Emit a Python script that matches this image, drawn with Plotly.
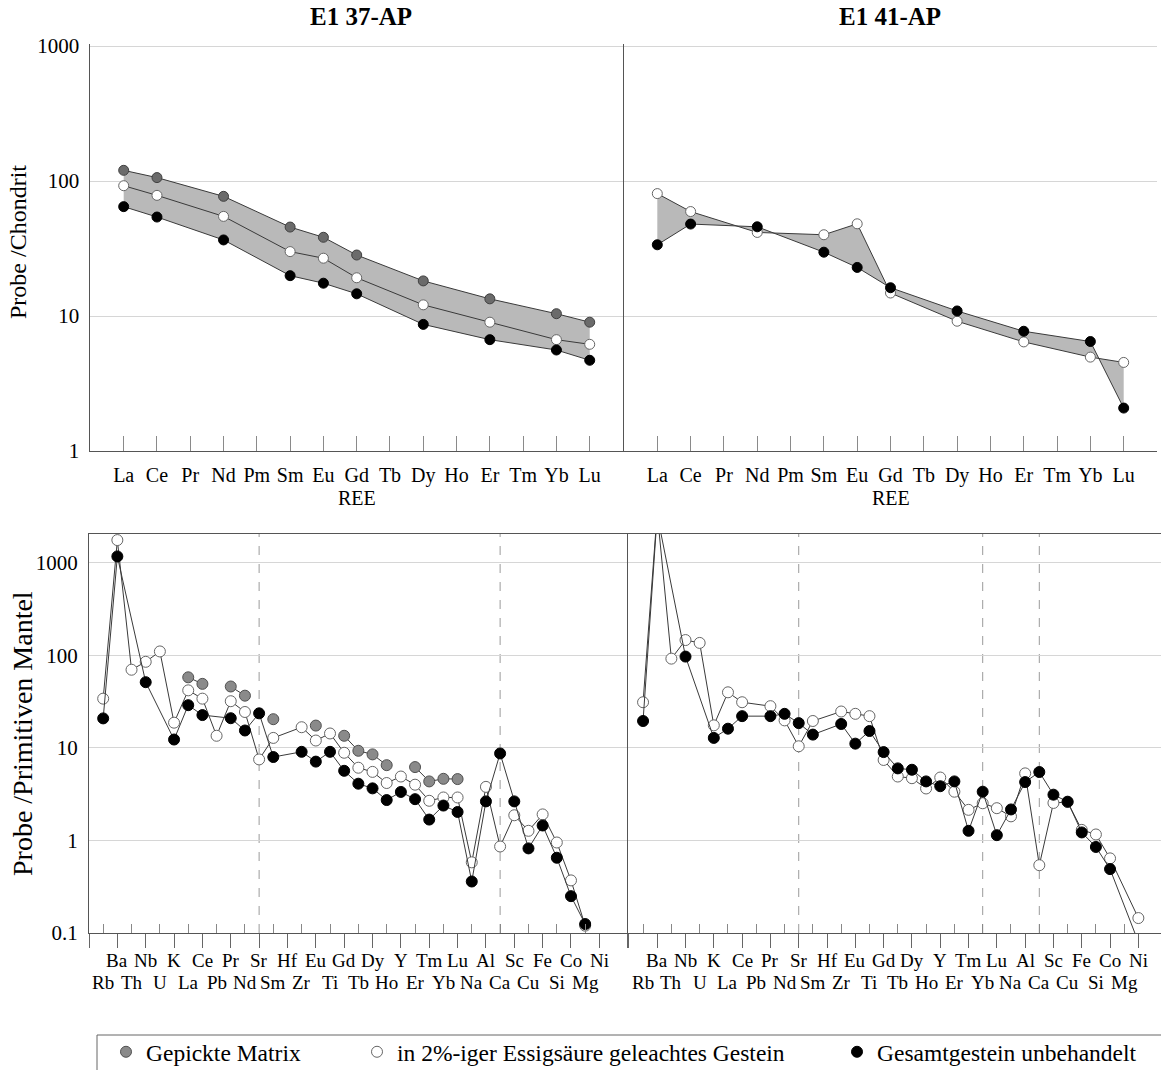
import plotly.graph_objects as go

W, H = 1161, 1070
SERIF = "Liberation Serif"

# ---------------- data ----------------
REE = ["La", "Ce", "Pr", "Nd", "Pm", "Sm", "Eu", "Gd", "Tb", "Dy", "Ho", "Er", "Tm", "Yb", "Lu"]

# E1 37-AP, chondrite normalised
ree37_matrix = [120, 106, None, 77, None, 45.6, 38.3, 28.3, None, 18.2, None, 13.4, None, 10.4, 9.0]
ree37_leached = [92.3, 78.3, None, 54.7, None, 30.0, 26.8, 19.2, None, 12.1, None, 9.0, None, 6.68, 6.17]
ree37_whole = [64.6, 54.1, None, 36.6, None, 19.9, 17.5, 14.6, None, 8.67, None, 6.68, None, 5.60, 4.70]

# E1 41-AP, chondrite normalised
ree41_leached = [80.7, 59.4, None, 41.6, None, 40.0, 48.2, 14.8, None, 9.15, None, 6.43, None, 4.96, 4.53]
ree41_whole = [33.7, 48.0, None, 45.8, None, 29.7, 22.9, 16.2, None, 10.9, None, 7.71, None, 6.47, 2.08]

SPIDER = ["Rb", "Ba", "Th", "Nb", "U", "K", "La", "Ce", "Pb", "Pr", "Nd", "Sr", "Sm", "Hf", "Zr",
          "Eu", "Ti", "Gd", "Tb", "Dy", "Ho", "Y", "Er", "Tm", "Yb", "Lu", "Na", "Al", "Ca", "Sc",
          "Cu", "Fe", "Si", "Co", "Mg", "Ni"]

# E1 37-AP, primitive mantle normalised
sp37_matrix = [None, None, None, None, None, None, 57.8, 49.1, None, 46.0, 36.6, None, 20.4, None, None,
               17.4, None, 13.5, 9.3, 8.5, 6.5, None, 6.2, 4.34, 4.63, 4.6, None, None, None, None,
               None, None, None, None, None, None]
sp37_leached = [34, 1755, 69.8, 85, 110, 18.7, 41.8, 34.0, 13.5, 31.9, 24.4, 7.5, 12.8, None, 16.7,
                12.0, 14.3, 8.85, 6.1, 5.5, 4.17, 4.9, 4.0, 2.68, 2.91, 2.91, 0.58, 3.79, 0.86, 1.87,
                1.27, 1.91, 0.95, 0.37, 0.12, None]
sp37_whole = [20.8, 1169, None, 51.2, None, 12.3, 28.9, 22.6, None, 20.9, 15.4, 23.6, 7.96, None, 9.06,
              7.1, 9.06, 5.65, 4.1, 3.65, 2.73, 3.34, 2.79, 1.68, 2.38, 2.03, 0.36, 2.64, 8.7, 2.64,
              0.82, 1.45, 0.65, 0.25, 0.125, None]

# E1 41-AP, primitive mantle normalised
sp41_leached = [31.1, 3500, 92, 146, 136, 17.5, 39.8, 31.1, None, 28.2, 19.8, 10.4, 19.5, None, 24.7,
                23.3, 22.0, 7.4, 4.9, 4.7, 3.64, 4.78, 3.36, 2.14, 2.52, 2.23, 1.82, 5.3, 0.54, 2.54,
                2.6, 1.30, 1.16, 0.64, None, 0.145]
sp41_whole = [19.5, 3300, None, 96.8, None, 12.8, 16.1, 22.0, None, 22.0, 23.3, 18.5, 13.9, None, 18.1,
              11.1, 15.2, 9.0, 6.0, 5.8, 4.34, 3.85, 4.34, 1.27, 3.36, 1.14, 2.16, 4.27, 5.48, 3.12,
              2.62, 1.22, 0.85, 0.49, None, 0.08]

DASHED_37 = ["Sr", "Ca"]
DASHED_41 = ["Sr", "Yb", "Ca"]

LEGEND_NAMES = ["Gepickte Matrix", "in 2%-iger Essigsäure geleachtes Gestein", "Gesamtgestein unbehandelt"]
TITLES = ["E1 37-AP", "E1 41-AP"]


# ---------------- helpers ----------------
def px(x):
    return x / W


def py(y):
    return 1 - y / H


ree_x = list(range(1, len(REE) + 1))
sp_x = list(range(len(SPIDER)))

LINE_C = "#3a3a3a"
GRAY_TOP = "#6b6b6b"
GRAY_BOT = "#8a8a8a"
BAND = "#b9b9b9"

fig = go.Figure()


def band(xs, a, b, xa, ya):
    pa = [(x, v) for x, v in zip(xs, a) if v is not None]
    pb = [(x, v) for x, v in zip(xs, b) if v is not None]
    pts = pa + pb[::-1]
    fig.add_trace(go.Scatter(x=[p[0] for p in pts], y=[p[1] for p in pts], mode="lines",
                             fill="toself", fillcolor=BAND, line=dict(width=0),
                             hoverinfo="skip", showlegend=False, xaxis=xa, yaxis=ya))


def series(xs, ys, xa, ya, fill, outline, connect, legend=None, name=None, size=10):
    fig.add_trace(go.Scatter(
        x=xs, y=ys, mode="lines", connectgaps=connect,
        line=dict(color=LINE_C, width=1), showlegend=False, hoverinfo="skip",
        xaxis=xa, yaxis=ya))
    fig.add_trace(go.Scatter(
        x=xs, y=ys, mode="markers",
        marker=dict(size=size, color=fill, line=dict(color=outline, width=1)),
        name=name, showlegend=legend is not None, legend=legend or "legend",
        xaxis=xa, yaxis=ya))


# top-left
band(ree_x, ree37_matrix, ree37_whole, "x", "y")
series(ree_x, ree37_matrix, "x", "y", GRAY_TOP, "#404040", True)
series(ree_x, ree37_leached, "x", "y", "white", "#666666", True)
series(ree_x, ree37_whole, "x", "y", "black", "black", True)

# top-right
band(ree_x, ree41_leached, ree41_whole, "x2", "y2")
series(ree_x, ree41_leached, "x2", "y2", "white", "#666666", True)
series(ree_x, ree41_whole, "x2", "y2", "black", "black", True)

# bottom-left
series(sp_x, sp37_matrix, "x3", "y3", GRAY_BOT, "#505050", False, legend="legend", name=LEGEND_NAMES[0], size=11)
series(sp_x, sp37_leached, "x3", "y3", "white", "#666666", True, legend="legend2", name=LEGEND_NAMES[1], size=11)
series(sp_x, sp37_whole, "x3", "y3", "black", "black", True, legend="legend3", name=LEGEND_NAMES[2], size=11)

# bottom-right
series(sp_x, sp41_leached, "x4", "y4", "white", "#666666", True, size=11)
series(sp_x, sp41_whole, "x4", "y4", "black", "black", True, size=11)

tick_font = dict(family=SERIF, size=20, color="black")
sp_font = dict(family=SERIF, size=19, color="black")
AX = "#555555"
GRID = "#d6d6d6"

# ---------------- axes ----------------
ree_tickvals = list(range(0, len(REE) + 2))
ree_ticktext = [""] + REE + [""]


def ree_xaxis(dom):
    return dict(domain=dom, range=[0, len(REE) + 1], tickmode="array", tickvals=ree_tickvals,
                ticktext=ree_ticktext, ticks="inside", ticklen=15, tickcolor="#8a8a8a",
                showline=True, linecolor=AX, showgrid=False, zeroline=False, tickfont=tick_font,
                ticklabelstandoff=6, fixedrange=True)


def ree_yaxis(dom, anchor, labels):
    return dict(domain=dom, type="log", range=[0, 3.015], tickmode="array",
                tickvals=[1, 10, 100, 1000], ticktext=["1", "10", "100", "1000"],
                showticklabels=labels, ticks="", showline=True, linecolor=AX,
                showgrid=True, gridcolor=GRID, zeroline=False,
                tickfont=dict(family=SERIF, size=21, color="black"),
                ticklabelstandoff=6, anchor=anchor)


odd = [i for i in range(-1, len(SPIDER) + 2) if i % 2 != 0]
even = [i for i in range(0, len(SPIDER)) if i % 2 == 0]


def sp_xaxis(dom, rng, anchor):
    return dict(domain=dom, range=rng, tickmode="array", tickvals=odd, showticklabels=False,
                ticks="outside", ticklen=14, tickcolor="#666666",
                minor=dict(tickmode="array", tickvals=even, ticks="inside", ticklen=9, tickcolor="#888888"),
                showline=True, linecolor=AX, mirror=True, showgrid=False, zeroline=False,
                anchor=anchor)


def sp_yaxis(dom, anchor, labels):
    return dict(domain=dom, type="log", range=[-1.0, 3.31], tickmode="array",
                tickvals=[0.1, 1, 10, 100, 1000], ticktext=["0.1", "1", "10", "100", "1000"],
                showticklabels=labels, ticks="", showline=True, linecolor=AX,
                showgrid=True, gridcolor=GRID, zeroline=False,
                tickfont=dict(family=SERIF, size=21, color="black"),
                ticklabelstandoff=6, anchor=anchor)


top_dom = [py(451), py(44)]
bot_dom = [py(933), py(534)]

fig.update_layout(
    xaxis=dict(ree_xaxis([px(90.4), px(623)]), anchor="y"),
    yaxis=ree_yaxis(top_dom, "x", True),
    xaxis2=dict(ree_xaxis([px(624), px(1157)]), anchor="y2"),
    yaxis2=ree_yaxis(top_dom, "x2", False),
    xaxis3=sp_xaxis([px(89), px(627.7)], [-1, 37], "y3"),
    yaxis3=sp_yaxis(bot_dom, "x3", True),
    xaxis4=sp_xaxis([px(628), 1.0], [-1.064, 36.6], "y4"),
    yaxis4=sp_yaxis(bot_dom, "x4", False),
)

# dashed separators
shapes = []
for name in DASHED_37:
    shapes.append(dict(type="line", xref="x3", yref="y3 domain", x0=SPIDER.index(name), x1=SPIDER.index(name),
                       y0=0, y1=1, line=dict(color="#9a9a9a", width=1, dash="dash"), layer="below"))
for name in DASHED_41:
    shapes.append(dict(type="line", xref="x4", yref="y4 domain", x0=SPIDER.index(name), x1=SPIDER.index(name),
                       y0=0, y1=1, line=dict(color="#9a9a9a", width=1, dash="dash"), layer="below"))
# legend frame (open to the right / bottom)
shapes.append(dict(type="rect", xref="paper", yref="paper", x0=px(97), x1=1.2, y0=py(1035), y1=-0.2,
                   line=dict(color="#666666", width=1), fillcolor="rgba(0,0,0,0)"))

annotations = []
# two staggered rows of spider labels
for i, name in enumerate(SPIDER):
    row_y = py(960) if i % 2 == 1 else py(982)
    for xa in ("x3", "x4"):
        annotations.append(dict(text=name, x=i, xref=xa, y=row_y, yref="paper", showarrow=False,
                                xanchor="center", yanchor="middle", font=sp_font))
# axis titles
for xa in ("x", "x2"):
    annotations.append(dict(text="REE", x=8, xref=xa, y=py(498), yref="paper", showarrow=False,
                            xanchor="center", yanchor="middle", font=tick_font))
for i, xc in enumerate((361, 890)):
    annotations.append(dict(text="<b>" + TITLES[i] + "</b>", x=px(xc), xref="paper", y=py(17), yref="paper",
                            showarrow=False, xanchor="center", yanchor="middle",
                            font=dict(family=SERIF, size=25, color="black")))
annotations.append(dict(text="Probe /Chondrit", x=px(18), xref="paper", y=py(242), yref="paper",
                        showarrow=False, textangle=-90, xanchor="center", yanchor="middle",
                        font=dict(family=SERIF, size=24, color="black")))
annotations.append(dict(text="Probe /Primitiven Mantel", x=px(22), xref="paper", y=py(734), yref="paper",
                        showarrow=False, textangle=-90, xanchor="center", yanchor="middle",
                        font=dict(family=SERIF, size=28, color="black")))

leg_font = dict(family=SERIF, size=23.5, color="black")


def leg(xpix):
    return dict(x=px(xpix), y=py(1052), xanchor="left", yanchor="middle", orientation="h",
                font=leg_font, bgcolor="rgba(0,0,0,0)", borderwidth=0, itemclick=False)


fig.update_layout(
    width=W, height=H, margin=dict(l=0, r=0, t=0, b=0, autoexpand=False),
    paper_bgcolor="white", plot_bgcolor="white",
    shapes=shapes, annotations=annotations,
    legend=leg(106), legend2=leg(357), legend3=leg(837),
    font=dict(family=SERIF, color="black"),
)

fig.write_html("out.html")
